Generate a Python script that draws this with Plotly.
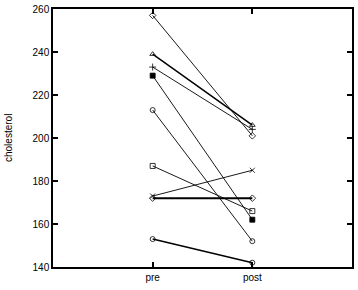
import plotly.graph_objects as go

categories = ["pre", "post"]
x_pos = [1, 2]
pre_values = [257, 239, 233, 229, 213, 187, 173, 172, 153]
post_values = [201, 206, 204, 162, 152, 166, 185, 172, 142]
symbols = ["diamond-open", "triangle-up-open", "cross-thin-open", "square", "circle-open",
           "square-open", "x-thin-open", "diamond-open", "circle-open"]
widths = [0.9, 1.5, 0.9, 0.9, 0.9, 0.9, 0.9, 2, 1.5]
y_ticks = [140, 160, 180, 200, 220, 240, 260]

fig = go.Figure()
for pv, qv, sym, w in zip(pre_values, post_values, symbols, widths):
    fig.add_trace(go.Scatter(
        x=x_pos, y=[pv, qv], mode="lines+markers",
        line=dict(color="black", width=w),
        marker=dict(symbol=sym, size=5, color="black",
                    line=dict(color="black", width=0.8)),
        showlegend=False, cliponaxis=False))

axis_common = dict(ticks="inside", ticklen=5, tickwidth=1.5, tickcolor="black",
                   showline=True, linecolor="black", linewidth=1.5, mirror="allticks",
                   showgrid=False, zeroline=False, automargin=False)

fig.update_layout(
    width=358, height=290,
    margin=dict(l=53, r=6, t=9, b=23),
    paper_bgcolor="white", plot_bgcolor="white",
    font=dict(family="Liberation Sans, Arial, sans-serif", size=10, color="black"),
    xaxis=dict(range=[0, 3], tickvals=x_pos, ticktext=categories,
               tickfont=dict(size=10), **axis_common),
    yaxis=dict(range=[140, 260], tickvals=y_ticks, tickfont=dict(size=10),
               **axis_common),
    annotations=[dict(text="cholesterol", xref="paper", yref="paper",
                      x=-45 / 299, y=0.5, xanchor="center", yanchor="middle",
                      textangle=-90, showarrow=False, font=dict(size=10))],
)

fig.write_html("out.html", config={"displayModeBar": False},
               post_script="document.body.style.margin='0';document.body.style.overflow='hidden';")
